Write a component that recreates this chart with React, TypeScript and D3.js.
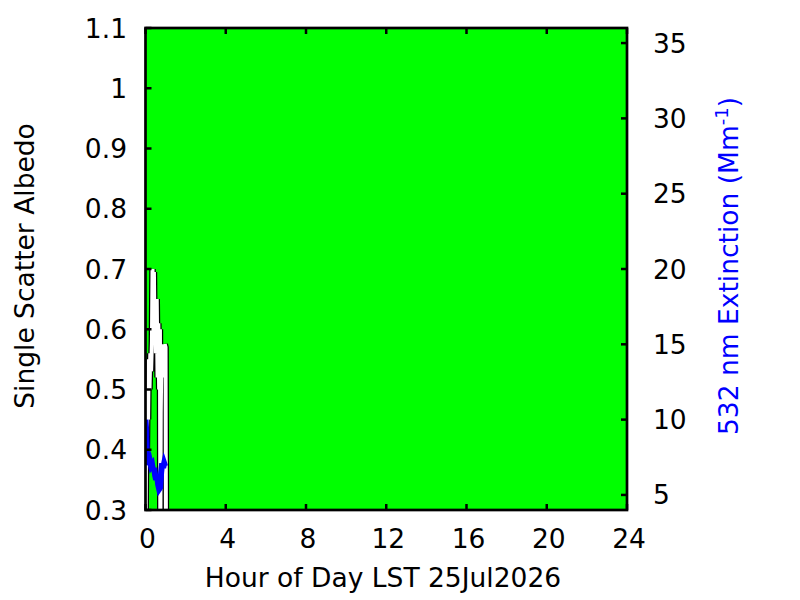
import React from 'react';
import { scaleLinear, line } from 'd3';

const xTicks = [0, 4, 8, 12, 16, 20, 24];
const yTicks = [0.3, 0.4, 0.5, 0.6, 0.7, 0.8, 0.9, 1, 1.1];
const y2Ticks = [5, 10, 15, 20, 25, 30, 35];

// single scatter albedo (hour, value) - noisy trace in the first hour
const albedoHours = [0.00, 0.04, 0.07, 0.10, 0.13, 0.16, 0.20, 0.24, 0.28, 0.32, 0.35, 0.39, 0.42, 0.45, 0.49, 0.52, 0.56, 0.60, 0.64, 0.68, 0.72, 0.74, 0.76, 0.80, 0.84, 0.88, 0.92, 0.96, 1.00, 1.02];
const albedoValues = [0.25, 0.46, 0.40, 0.50, 0.45, 0.55, 0.50, 0.56, 0.53, 0.58, 0.70, 0.62, 0.695, 0.58, 0.65, 0.56, 0.65, 0.52, 0.61, 0.50, 0.60, 0.25, 0.46, 0.575, 0.52, 0.575, 0.55, 0.575, 0.57, 0.25];

// 532 nm extinction (hour, Mm-1)
const extHours = [0.00, 0.03, 0.06, 0.09, 0.13, 0.18, 0.23, 0.28, 0.33, 0.38, 0.43, 0.48, 0.53, 0.58, 0.63, 0.68, 0.73, 0.78, 0.83, 0.88, 0.93, 0.98];
const extValues = [10.0, 9.4, 8.0, 7.2, 7.4, 7.0, 7.2, 6.9, 7.0, 6.6, 6.8, 6.3, 6.0, 6.3, 5.7, 5.4, 5.5, 6.5, 7.1, 6.8, 7.1, 6.9];

const left = 145.5, right = 627, top = 28, bottom = 510;
const font = 'DejaVu Sans, sans-serif';
const fs = 26.5;

export default function App() {
  const x = scaleLinear().domain([0, 24]).range([left, right]);
  const y = scaleLinear().domain([0.3, 1.1]).range([bottom, top]);
  const y2 = scaleLinear().domain([4, 36]).range([bottom, top]);

  const albedoPath = line<number>()
    .x((_, i) => x(albedoHours[i]))
    .y(d => y(d))(albedoValues) || '';
  const extPath = line<number>()
    .x((_, i) => x(extHours[i]))
    .y(d => y2(d))(extValues) || '';

  const tk = 6;
  return (
    <svg width={800} height={600} style={{ position: 'absolute', left: 0, top: 0 }} fontFamily={font}>
      <defs>
        <clipPath id="plot">
          <rect x={left} y={top} width={right - left} height={bottom - top} />
        </clipPath>
      </defs>
      <rect x={0} y={0} width={800} height={600} fill="#fff" />
      <rect x={left} y={top} width={right - left} height={bottom - top} fill="#00ff00" />
      <g clipPath="url(#plot)">
        <path d={albedoPath} fill="none" stroke="#000" strokeWidth={6.5} strokeLinejoin="miter" />
        <path d={albedoPath} fill="none" stroke="#fff" strokeWidth={4} strokeLinejoin="miter" />
        <path d={extPath} fill="none" stroke="#0000ff" strokeWidth={6} />
      </g>
      {/* ticks */}
      <g stroke="#000" strokeWidth={2.5}>
        {xTicks.map(t => (
          <g key={'x' + t}>
            <line x1={x(t)} x2={x(t)} y1={bottom} y2={bottom - tk} />
            <line x1={x(t)} x2={x(t)} y1={top} y2={top + tk} />
          </g>
        ))}
        {yTicks.map(t => (
          <line key={'y' + t} x1={left} x2={left + tk} y1={y(t)} y2={y(t)} />
        ))}
        {y2Ticks.map(t => (
          <line key={'y2' + t} x1={right} x2={right - tk} y1={y2(t)} y2={y2(t)} />
        ))}
      </g>
      <rect x={left} y={top} width={right - left} height={bottom - top} fill="none" stroke="#000" strokeWidth={2.7} />
      {/* tick labels */}
      <g fontSize={fs} fill="#000">
        {xTicks.map(t => (
          <text key={'xl' + t} x={x(t) + 2} y={548} textAnchor="middle">{t}</text>
        ))}
        {yTicks.map(t => (
          <text key={'yl' + t} x={127} y={y(t) + 9.5} textAnchor="end">{t}</text>
        ))}
        {y2Ticks.map(t => (
          <text key={'y2l' + t} x={653} y={y2(t) + 9.5} textAnchor="start">{t}</text>
        ))}
      </g>
      <text x={383} y={587} fontSize={fs} textAnchor="middle">Hour of Day LST 25Jul2026</text>
      <text transform="translate(34,266) rotate(-90)" fontSize={fs} textAnchor="middle">Single Scatter Albedo</text>
      <text transform="translate(738,266) rotate(-90)" fontSize={fs} textAnchor="middle" fill="#0000ff">
        532 nm Extinction (Mm<tspan dy={-10} fontSize={18}>-1</tspan><tspan dy={10}>)</tspan>
      </text>
    </svg>
  );
}
